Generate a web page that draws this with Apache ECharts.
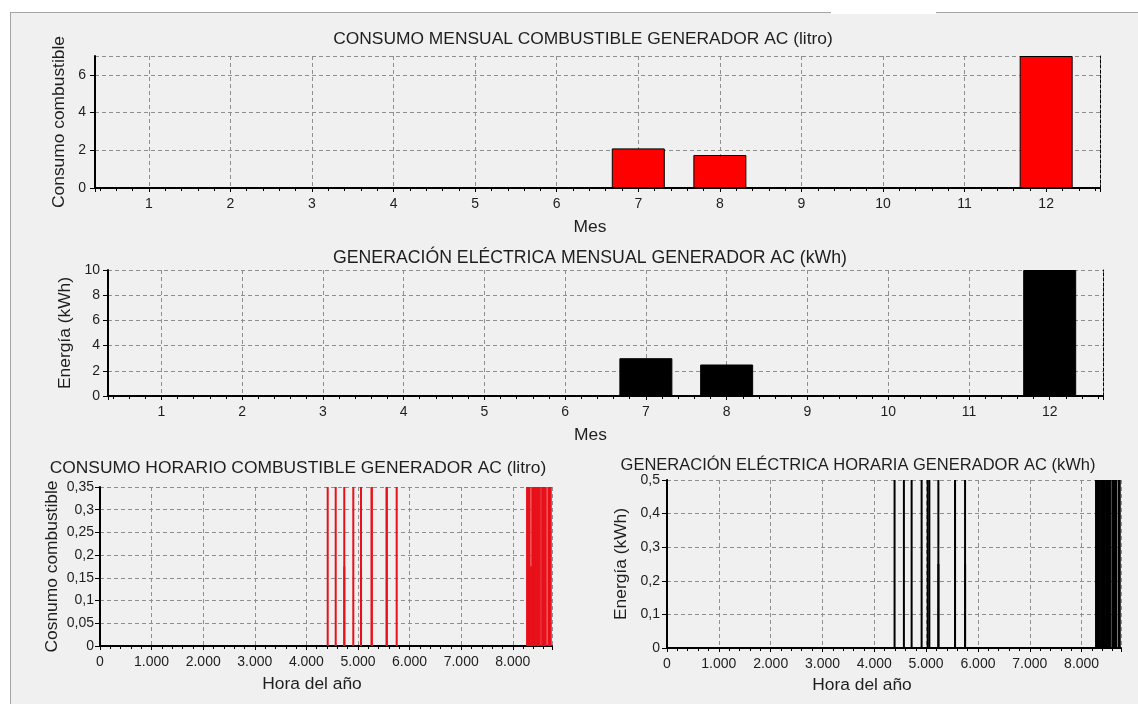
<!DOCTYPE html>
<html><head><meta charset="utf-8">
<script src="https://cdn.jsdelivr.net/npm/echarts@6/dist/echarts.min.js"></script>
<style>
html,body{margin:0;padding:0;background:#fff;overflow:hidden;}
#panel{position:absolute;left:10px;top:12px;width:1128px;height:692px;background:#f0f0f0;border-left:1px solid #a5a5a5;border-top:1px solid #a5a5a5;box-sizing:border-box;}
#gap{position:absolute;left:831px;top:0;width:105px;height:14px;background:#fff;}
#c{position:absolute;left:0;top:0;width:1138px;height:704px;}
</style>
</head><body>
<div id="panel"></div><div id="gap"></div>
<div id="c"></div>
<script>
// ---- data ----
const months = [1,2,3,4,5,6,7,8,9,10,11,12];
const monthlyFuel = [0,0,0,0,0,0,2.1,1.75,0,0,0,7.0];
const monthlyEnergy = [0,0,0,0,0,0,3.0,2.5,0,0,0,10.0];

const hourlyFuelHours = [4413,4568,4734,4735,4909,5058,5059,5265,5266,5556,5557,5750,
  8280,8281,8304,8328,8352,8353,8376,8400,8424,8448,8472,8496,8520,8521,8568,8592,8616,8640,8688,8712,8736];
const hourlyFuelValues = [0.35,0.35,0.35,0.175,0.35,0.35,0.175,0.35,0.35,0.35,0.35,0.35,
  0.35,0.35,0.35,0.35,0.175,0.175,0.35,0.35,0.35,0.35,0.35,0.35,0.35,0.35,0.35,0.35,0.35,0.35,0.35,0.35,0.35];

const hourlyEnergyHours = [4391,4571,4720,4913,5030,5062,5236,5237,5557,5558,5751,5752,
  8280,8281,8304,8328,8352,8376,8400,8424,8448,8472,8496,8520,8544,8545,8592,8616,8640,8664,8712,8736];
const hourlyEnergyValues = [0.5,0.5,0.5,0.5,0.5,0.5,0.5,0.25,0.5,0.5,0.5,0.25,
  0.5,0.5,0.5,0.5,0.5,0.5,0.5,0.5,0.5,0.5,0.5,0.5,0.5,0.5,0.5,0.5,0.5,0.5,0.5,0.5];

const titles = [
  'CONSUMO MENSUAL COMBUSTIBLE GENERADOR AC (litro)',
  'GENERACIÓN ELÉCTRICA MENSUAL GENERADOR AC (kWh)',
  'CONSUMO HORARIO COMBUSTIBLE GENERADOR AC (litro)',
  'GENERACIÓN ELÉCTRICA HORARIA GENERADOR AC (kWh)'
];
const xNames = ['Mes','Mes','Hora del año','Hora del año'];
const yNames = ['Consumo combustible','Energía (kWh)','Cosnumo combustible','Energía (kWh)'];

// ---- helpers ----
const FONT = '"Liberation Sans", Arial, sans-serif';
const TXT = '#1e1e1e';
const TICK_FS = 14;
const NAME_FS = 17.4;
const TITLE_FS = [17.4, 17.7, 17.4, 16.5];
const comma = v => String(+(+v).toFixed(4)).replace('.', ',');
const thousands = v => String(Math.round(v)).replace(/\B(?=(\d{3})+(?!\d))/g, '.');
const isInt = v => Math.abs(v - Math.round(v)) < 1e-6;

const grids = [
  {left:95, top:56, width:1005, height:132},
  {left:108, top:270, width:995, height:126},
  {left:100, top:487, width:452, height:159},
  {left:667, top:480, width:454, height:168}
];

const splitLine = {show:true, lineStyle:{color:'#8f8f8f', type:[4,3], width:1}};
const axisLineMain = {show:true, lineStyle:{color:'#000', width:2}};
const borderLine = {show:true, lineStyle:{color:'#000', width:1, type:[3,2]}};
const nameStyle = pad => ({color:TXT, fontSize:NAME_FS, fontFamily:FONT, padding:pad});

function mkX(i, cfg) {
  return Object.assign({
    type:'value', gridIndex:i, position:'bottom',
    axisLine: axisLineMain,
    axisTick:{show:true, length:4, lineStyle:{color:'#000'}},
    minorTick:{show:true, splitNumber:5, length:3, lineStyle:{color:'#000'}},
    splitLine: splitLine,
    name: xNames[i], nameLocation:'middle'
  }, cfg);
}
function mkXTop(i, min, max) {
  return {type:'value', gridIndex:i, position:'top', min, max,
    axisLine:borderLine, axisTick:{show:false}, axisLabel:{show:false}, splitLine:{show:false}};
}
function mkY(i, cfg) {
  return Object.assign({
    type:'value', gridIndex:i, position:'left',
    axisLine: axisLineMain,
    axisTick:{show:true, length:5, lineStyle:{color:'#000'}},
    splitLine: splitLine,
    name: yNames[i], nameLocation:'middle', nameRotate:90,
    nameTextStyle: nameStyle(0)
  }, cfg);
}
function mkYRight(i, min, max) {
  return {type:'value', gridIndex:i, position:'right', min, max,
    axisLine:borderLine, axisTick:{show:false}, axisLabel:{show:false}, splitLine:{show:false}};
}

const monthAxis = {min:0.34, max:12.66, minInterval:1, maxInterval:1, splitNumber:12};
const monthLabel = {color:TXT, fontSize:TICK_FS, fontFamily:FONT, margin:9,
  formatter: v => isInt(v) ? String(Math.round(v)) : ''};
const hourLabel = {color:TXT, fontSize:TICK_FS, fontFamily:FONT, margin:9,
  formatter: v => isInt(v / 1000) ? thousands(v) : '', showMaxLabel:false};
const yLabel = (margin, extra) => Object.assign({color:TXT, fontSize:TICK_FS, fontFamily:FONT, margin}, extra || {});

const option = {
  animation:false,
  backgroundColor:'transparent',
  textStyle:{fontFamily:FONT},
  title: titles.map((t, i) => ({
    text:t,
    left:[583, 590, 298, 858][i],
    top:[31, 249, 460, 457][i],
    textAlign:'center',
    padding:0,
    textStyle:{color:TXT, fontSize:TITLE_FS[i], fontWeight:'normal', fontFamily:FONT}
  })),
  grid: grids,
  xAxis: [
    mkX(0, Object.assign({}, monthAxis, {axisLabel:monthLabel, nameGap:31, nameTextStyle:nameStyle([0,15,0,0])})),
    mkXTop(0, 0.34, 12.66),
    mkX(1, Object.assign({}, monthAxis, {axisLabel:monthLabel, nameGap:31, nameTextStyle:nameStyle([0,30,0,0])})),
    mkXTop(1, 0.34, 12.66),
    mkX(2, {min:0, max:8760, interval:1000, axisLabel:hourLabel, nameGap:30, nameTextStyle:nameStyle([0,28,0,0])}),
    mkXTop(2, 0, 8760),
    mkX(3, {min:0, max:8760, interval:1000, axisLabel:hourLabel, nameGap:29, nameTextStyle:nameStyle([0,64,0,0])}),
    mkXTop(3, 0, 8760)
  ],
  yAxis: [
    mkY(0, {min:0, max:7, interval:2, nameGap:21, axisLabel:yLabel(9, {showMaxLabel:false})}),
    mkYRight(0, 0, 7),
    mkY(1, {min:0, max:10, interval:2, nameGap:29, axisLabel:yLabel(8)}),
    mkYRight(1, 0, 10),
    mkY(2, {min:0, max:0.35, interval:0.05, nameGap:39, axisLabel:yLabel(6, {formatter:comma})}),
    mkYRight(2, 0, 0.35),
    mkY(3, {min:0, max:0.5, interval:0.1, nameGap:37, axisLabel:yLabel(7, {formatter:comma})}),
    mkYRight(3, 0, 0.5)
  ],
  series: [
    {type:'bar', xAxisIndex:0, yAxisIndex:0, barWidth:53,
      itemStyle:{color:'#ff0000', borderColor:'#000', borderWidth:1},
      data: months.map((m, k) => [m, monthlyFuel[k]])},
    {type:'bar', xAxisIndex:2, yAxisIndex:2, barWidth:53,
      itemStyle:{color:'#000', borderColor:'#000', borderWidth:1},
      data: months.map((m, k) => [m, monthlyEnergy[k]])},
    {type:'bar', xAxisIndex:4, yAxisIndex:4, barWidth:2,
      itemStyle:{color:'#e8101a'},
      data: hourlyFuelHours.map((h, k) => [h, hourlyFuelValues[k]])},
    {type:'bar', xAxisIndex:6, yAxisIndex:6, barWidth:2,
      itemStyle:{color:'#000'},
      data: hourlyEnergyHours.map((h, k) => [h, hourlyEnergyValues[k]])}
  ]
};
const chart = echarts.init(document.getElementById('c'), null, {renderer:'canvas'});
chart.setOption(option);
</script>
</body></html>
